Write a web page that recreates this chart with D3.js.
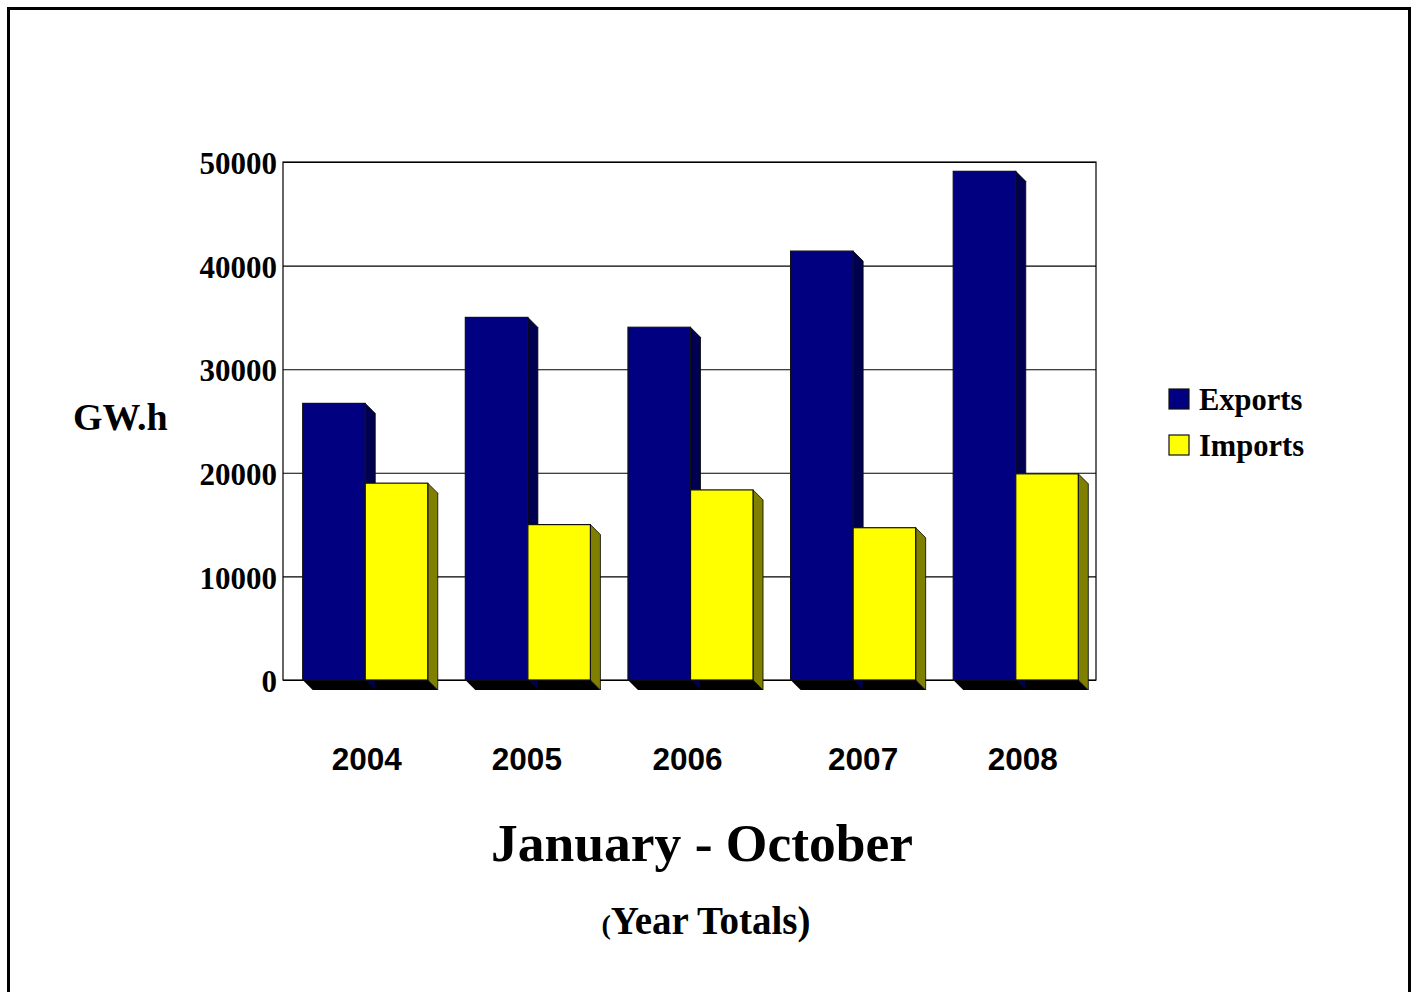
<!DOCTYPE html>
<html>
<head>
<meta charset="utf-8">
<script src="https://cdn.jsdelivr.net/npm/d3@7"></script>
<style>
  html, body { margin: 0; padding: 0; background: #fff; overflow: hidden; }
  svg { display: block; }
</style>
</head>
<body>
<div id="chart"></div>
<script>
const years = ["2004", "2005", "2006", "2007", "2008"];
const seriesNames = ["Exports", "Imports"];
const exportsValues = [26700, 35000, 34050, 41400, 49100];
const importsValues = [19000, 15000, 18350, 14700, 19900];
const yTicks = [0, 10000, 20000, 30000, 40000, 50000];

const width = 1419, height = 992, depth = 10;
const serif = "'Liberation Serif', 'Times New Roman', serif";
const sans = "'Liberation Sans', Arial, sans-serif";
const colors = { Exports: "#000080", Imports: "#ffff00" };
const sideColors = { Exports: "#000050", Imports: "#808000" };
const labelNudge = [1.5, -1, -3, 10, 7]; // the year labels are not centred in the original

const plot = { left: 283, right: 1096, top: 162, bottom: 680 };

const svg = d3.select("#chart")
  .append("svg")
  .attr("width", width)
  .attr("height", height);

// outer frame runs past the bottom of the picture
svg.append("rect")
  .attr("x", 8.5)
  .attr("y", 8.5)
  .attr("width", 1401)
  .attr("height", 1000)
  .attr("fill", "none")
  .attr("stroke", "#000")
  .attr("stroke-width", 3);

const x = d3.scaleBand().domain(years).range([plot.left + 1, plot.right + 1]).paddingInner(0.231).paddingOuter(0.115);
const xInner = d3.scaleBand().domain(seriesNames).range([0, x.bandwidth()]);
const y = d3.scaleLinear().domain([0, 50000]).range([plot.bottom, plot.top]);

// plot box and gridlines
svg.append("rect")
  .attr("x", plot.left)
  .attr("y", plot.top)
  .attr("width", plot.right - plot.left)
  .attr("height", plot.bottom - plot.top)
  .attr("fill", "#fff")
  .attr("stroke", "#000")
  .attr("stroke-width", 1.2);

const yAxis = svg.append("g")
  .attr("transform", `translate(${plot.left},0)`)
  .call(d3.axisLeft(y).tickValues(yTicks).tickFormat(d3.format("d")).tickSize(-(plot.right - plot.left)).tickPadding(6));
yAxis.select(".domain").remove();
yAxis.selectAll("line").attr("stroke", "#000").attr("stroke-width", 1.1);
yAxis.selectAll("text")
  .attr("dy", "0.38em")
  .attr("font-family", serif)
  .attr("font-weight", "bold")
  .attr("font-size", 31)
  .attr("fill", "#000");

const rows = years.map((year, i) => ({
  year,
  bars: [
    { name: "Exports", value: exportsValues[i] },
    { name: "Imports", value: importsValues[i] }
  ]
}));

const groups = svg.append("g")
  .selectAll("g")
  .data(rows)
  .join("g")
  .attr("transform", d => `translate(${x(d.year)},0)`);

// black floor under each pair of bars
groups.append("path")
  .attr("fill", "#000")
  .attr("d", () => {
    const w = x.bandwidth(), b = y(0);
    return `M0,${b}L${depth},${b + depth}L${w + depth},${b + depth}L${w},${b}Z`;
  });

const bars = groups.selectAll("g.bar")
  .data(d => d.bars)
  .join("g")
  .attr("class", "bar");

// side face
bars.append("path")
  .attr("fill", d => sideColors[d.name])
  .attr("stroke", "#000")
  .attr("stroke-width", 0.8)
  .attr("d", d => {
    const r = xInner(d.name) + xInner.bandwidth(), t = y(d.value), b = y(0);
    return `M${r},${t}L${r + depth},${t + depth}L${r + depth},${b + depth}L${r},${b}Z`;
  });

// front face
bars.append("rect")
  .attr("x", d => xInner(d.name))
  .attr("y", d => y(d.value))
  .attr("width", xInner.bandwidth())
  .attr("height", d => y(0) - y(d.value))
  .attr("fill", d => colors[d.name])
  .attr("stroke", "#111")
  .attr("stroke-width", 1.2);

// year labels
svg.append("g")
  .selectAll("text")
  .data(years)
  .join("text")
  .attr("x", (d, i) => x(d) + x.bandwidth() / 2 + labelNudge[i])
  .attr("y", 770)
  .attr("text-anchor", "middle")
  .attr("font-family", sans)
  .attr("font-weight", "bold")
  .attr("font-size", 31.5)
  .text(d => d);

svg.append("text")
  .attr("x", 73)
  .attr("y", 430)
  .attr("font-family", serif)
  .attr("font-weight", "bold")
  .attr("font-size", 38)
  .text("GW.h");

// legend
const legend = svg.append("g")
  .selectAll("g")
  .data(seriesNames)
  .join("g")
  .attr("transform", (d, i) => `translate(1169,${389 + i * 46})`);

legend.append("rect")
  .attr("width", 20)
  .attr("height", 20)
  .attr("fill", d => colors[d])
  .attr("stroke", "#111")
  .attr("stroke-width", 1.2);

legend.append("text")
  .attr("x", 30)
  .attr("y", 21)
  .attr("font-family", serif)
  .attr("font-weight", "bold")
  .attr("font-size", 30.5)
  .text(d => d);

// titles
svg.append("text")
  .attr("x", 702)
  .attr("y", 861)
  .attr("text-anchor", "middle")
  .attr("font-family", serif)
  .attr("font-weight", "bold")
  .attr("font-size", 53.5)
  .text("January - October");

const sub = svg.append("text")
  .attr("x", 706)
  .attr("y", 934)
  .attr("text-anchor", "middle")
  .attr("font-family", serif)
  .attr("font-weight", "bold")
  .attr("font-size", 39);
sub.append("tspan").attr("font-size", 28).text("(");
sub.append("tspan").text("Year Totals)");
</script>
</body>
</html>
